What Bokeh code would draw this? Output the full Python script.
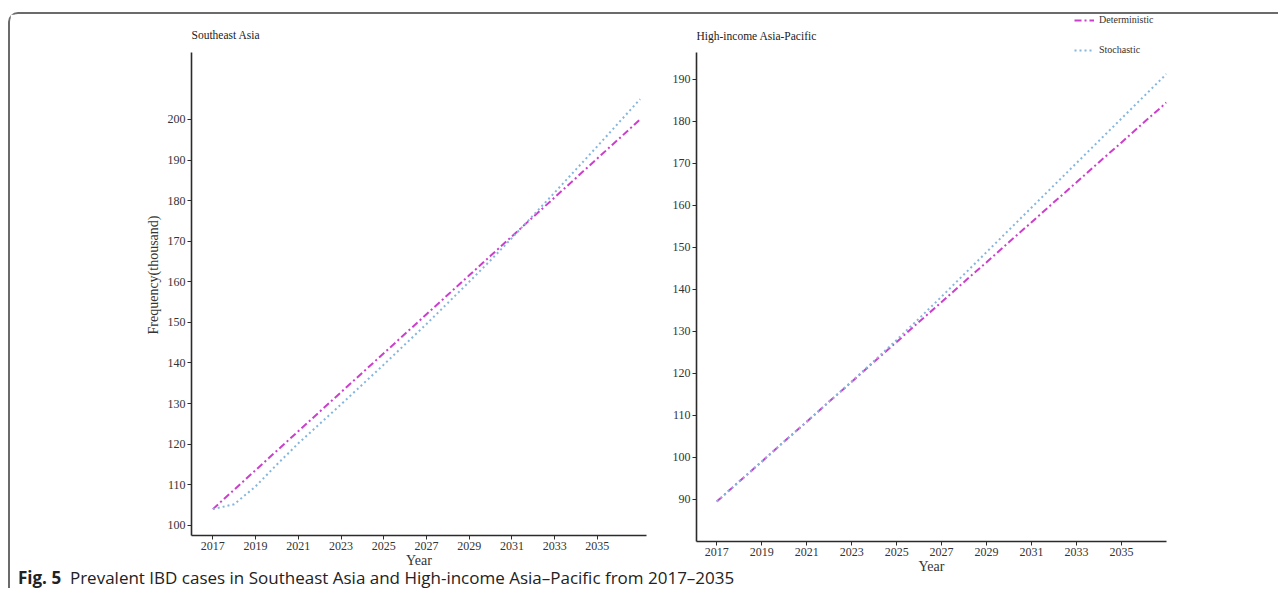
from bokeh.plotting import figure
from bokeh.layouts import row, column
from bokeh.models import Div, Legend, LegendItem, Range1d, FixedTicker, Label
from bokeh.embed import file_html
from bokeh.resources import INLINE

years = [2017, 2018, 2019, 2020, 2021, 2022, 2023, 2024, 2025, 2026, 2027,
         2028, 2029, 2030, 2031, 2032, 2033, 2034, 2035, 2036, 2037]

sea_det = [104.0, 108.8, 113.6, 118.4, 123.2, 128.0, 132.8, 137.6, 142.4, 147.2, 152.0,
           156.8, 161.6, 166.4, 171.2, 176.0, 180.8, 185.6, 190.4, 195.2, 200.0]
sea_sto = [104.0, 105.2, 109.6, 115.0, 120.2, 125.0, 129.8, 134.7, 139.6, 144.6, 149.6,
           154.8, 160.0, 165.3, 170.8, 176.4, 182.0, 187.7, 193.4, 199.2, 205.0]

hi_det = [89.5, 94.3, 99.0, 103.8, 108.5, 113.3, 118.0, 122.8, 127.5, 132.3, 137.0,
          141.8, 146.5, 151.3, 156.0, 160.8, 165.5, 170.3, 175.0, 179.8, 184.5]
hi_sto = [89.5, 94.3, 99.0, 103.8, 108.5, 113.3, 118.1, 123.0, 128.0, 133.1, 138.3,
          143.6, 148.9, 154.2, 159.5, 164.8, 170.1, 175.4, 180.7, 186.0, 191.3]

x_ticks = [2017, 2019, 2021, 2023, 2025, 2027, 2029, 2031, 2033, 2035]
sea_yticks = [100, 110, 120, 130, 140, 150, 160, 170, 180, 190, 200]
hi_yticks = [90, 100, 110, 120, 130, 140, 150, 160, 170, 180, 190]

SERIF = "Liberation Serif"
DET_COLOR = "#cc3fcc"
STO_COLOR = "#86b6dc"
AX_COLOR = "#2b2b2b"


def style(p, yticks, ybounds, title, title_x, title_y):
    p.grid.visible = False
    p.outline_line_color = None
    for ax in (p.xaxis[0], p.yaxis[0]):
        ax.axis_line_color = AX_COLOR
        ax.axis_line_width = 1.6
        ax.major_tick_line_color = AX_COLOR
        ax.major_tick_in = 0
        ax.major_tick_out = 4
        ax.minor_tick_line_color = None
        ax.major_label_text_font = SERIF
        ax.major_label_text_font_size = "12px"
        ax.major_label_text_color = "#333333"
        ax.major_label_standoff = 2
        ax.axis_label_text_font = SERIF
        ax.axis_label_text_font_size = "14px"
        ax.axis_label_text_font_style = "normal"
        ax.axis_label_text_color = "#333333"
    p.xaxis[0].ticker = FixedTicker(ticks=x_ticks)
    p.yaxis[0].ticker = FixedTicker(ticks=yticks)
    p.yaxis[0].bounds = ybounds
    p.xaxis[0].axis_label = "Year"
    p.xaxis[0].axis_label_standoff = 0
    p.add_layout(Label(x=title_x, y=title_y, text=title, text_font=SERIF,
                       text_font_size="11.5px", text_color="#222222",
                       text_baseline="middle", text_align="left"))


# left panel: y axis drawn 97.5..216.5, frame extends higher for the title area
p1 = figure(width=641, height=558, output_backend="svg", toolbar_location=None,
            x_range=Range1d(2016.0, 2037.3), y_range=Range1d(97.5, 225.86),
            min_border_left=181, min_border_right=5, min_border_top=0, min_border_bottom=37)
style(p1, sea_yticks, (97.5, 216.5), "Southeast Asia", 2016.0, 220.7)
p1.yaxis[0].axis_label = "Frequency(thousand)"
p1.yaxis[0].axis_label_standoff = 4
p1.line(years, sea_det, line_color=DET_COLOR, line_width=2, line_dash="7 3 2 3")
p1.line(years, sea_sto, line_color=STO_COLOR, line_width=2, line_dash="2 3")

p2 = figure(width=627, height=564, output_backend="svg", toolbar_location=None,
            x_range=Range1d(2016.1, 2037.0), y_range=Range1d(80.0, 205.45),
            min_border_left=45, min_border_right=112, min_border_top=0, min_border_bottom=37)
style(p2, hi_yticks, (80.0, 196.4), "High-income Asia-Pacific", 2016.1, 200.45)
r1 = p2.line(years, hi_det, line_color=DET_COLOR, line_width=2, line_dash="7 3 2 3")
r2 = p2.line(years, hi_sto, line_color=STO_COLOR, line_width=2, line_dash="2 3")

legend = Legend(items=[LegendItem(label="Deterministic", renderers=[r1]),
                       LegendItem(label="Stochastic", renderers=[r2])],
                location=(378, 486), orientation="vertical",
                label_text_font=SERIF, label_text_font_size="10px",
                label_text_color="#333333", label_standoff=5,
                glyph_width=20, glyph_height=10, label_height=10,
                spacing=19, padding=0, margin=0,
                background_fill_alpha=0, border_line_color=None)
p2.add_layout(legend, "center")

caption = Div(text='<span style="font-weight:bold">Fig. 5</span>&nbsp;&nbsp;Prevalent IBD cases in '
                   'Southeast Asia and High-income Asia\u2013Pacific from 2017\u20132035',
              width=1200, height=22, margin=(-12, 0, 0, 0),
              styles={"font-family": "Open Sans", "font-size": "17px", "color": "#222222",
                      "padding-left": "8px", "white-space": "nowrap"})

layout = column(row(p1, p2), caption,
                styles={"border-top": "2px solid #6b6b6b", "border-left": "2px solid #6b6b6b",
                        "border-top-left-radius": "10px", "margin-top": "12px",
                        "margin-left": "8px"})

open("out.html", "w").write(file_html(layout, INLINE))
